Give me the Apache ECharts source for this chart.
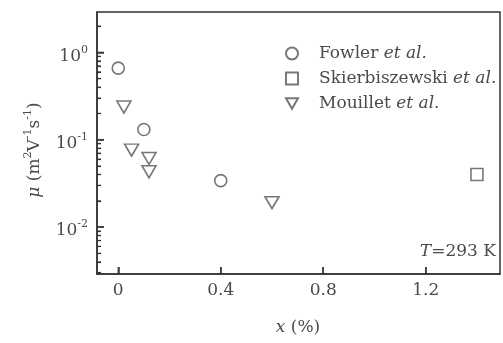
<!DOCTYPE html>
<html><head><meta charset="utf-8">
<script src="https://cdn.jsdelivr.net/npm/echarts@6/dist/echarts.min.js"></script>
<style>html,body{margin:0;padding:0;background:#fff}#c{width:503px;height:343px}</style>
</head><body><div id="c"></div>
<script>
// Data
const fowlerX = [0.0, 0.10, 0.40];
const fowlerY = [0.66, 0.131, 0.034];
const skierX = [1.40];
const skierY = [0.040];
const mouilletX = [0.022, 0.052, 0.12, 0.12, 0.60];
const mouilletY = [0.237, 0.076, 0.061, 0.043, 0.019];
const xTickValues = [0, 0.4, 0.8, 1.2];
const yMajorValues = [0.01, 0.1, 1];
const yMinorValues = [0.003,0.004,0.005,0.006,0.007,0.008,0.009,
  0.02,0.03,0.04,0.05,0.06,0.07,0.08,0.09,
  0.2,0.3,0.4,0.5,0.6,0.7,0.8,0.9,2];
const seriesNames = ['Fowler', 'Skierbiszewski', 'Mouillet'];

const FONT = 'DejaVu Serif';
const TXT = '#4a4a4a';
const STROKE = '#555';
const AX = '#333';
const zip = (xs, ys) => xs.map((x, i) => [x, ys[i]]);
const triDown = 'path://M0,0 L12,0 L6,10.4 Z';

const chart = echarts.init(document.getElementById('c'), null, {renderer: 'canvas'});
const markerStyle = {color: '#fff', borderColor: STROKE, borderWidth: 1.6};
const xMin = -0.083, xMax = 1.49;
const yMin = 0.0029, yMax = 2.9;
const sup = {fontFamily: FONT, fontSize: 11, color: TXT, verticalAlign: 'top', lineHeight: 12};
const supG = {fontFamily: FONT, fontSize: 11, fill: TXT, verticalAlign: 'top', lineHeight: 12};

function tickSeries(data, size, offset) {
  return {type: 'scatter', symbol: 'rect', symbolSize: size, symbolOffset: offset,
    itemStyle: {color: AX}, silent: true, clip: false, z: 4, data: data,
    emphasis: {disabled: true}};
}

chart.setOption({
  animation: false,
  backgroundColor: '#fff',
  grid: {left: 97, top: 12, right: 3, bottom: 69, show: true, borderColor: AX, borderWidth: 1.5, containLabel: false},
  legend: {
    orient: 'vertical', left: 280, top: 40, itemWidth: 12, itemHeight: 12, itemGap: 8,
    data: seriesNames,
    formatter: n => '{g|}{t|' + n + ' }{i|et al.}',
    textStyle: {
      color: TXT, fontFamily: FONT, fontSize: 17,
      rich: {
        g: {width: 16},
        t: {color: TXT, fontFamily: FONT, fontSize: 17},
        i: {color: TXT, fontFamily: FONT, fontSize: 17, fontStyle: 'italic'}
      }
    }
  },
  xAxis: {
    type: 'value', min: xMin, max: xMax,
    axisLine: {show: true, onZero: false, lineStyle: {color: AX, width: 1.5}},
    axisTick: {show: true, inside: true, length: 7, customValues: xTickValues, lineStyle: {color: AX, width: 1.5}},
    axisLabel: {customValues: xTickValues, color: TXT, fontFamily: FONT, fontSize: 17, margin: 8,
      formatter: v => String(v)},
    splitLine: {show: false}
  },
  yAxis: [{
    type: 'log', logBase: 10, min: yMin, max: yMax,
    axisLine: {show: true, onZero: false, lineStyle: {color: AX, width: 1.5}},
    axisTick: {show: true, inside: true, length: 7, customValues: yMajorValues, lineStyle: {color: AX, width: 1.5}},
    axisLabel: {customValues: yMajorValues, color: TXT, fontFamily: FONT, margin: 9, padding: [8, 0, 0, 0],
      formatter: v => {
        const e = Math.round(Math.log10(v));
        return '{b|10}{s|' + e + '}';
      },
      rich: {
        b: {fontFamily: FONT, fontSize: 17, color: TXT, lineHeight: 24},
        s: sup
      }},
    splitLine: {show: false}
  }, {
    type: 'log', logBase: 10, min: yMin, max: yMax, position: 'left',
    axisLine: {show: false, onZero: false},
    axisTick: {show: true, inside: true, length: 4, customValues: yMinorValues, lineStyle: {color: AX, width: 1.2}},
    axisLabel: {show: false},
    splitLine: {show: false}
  }],
  series: [
    {name: 'Fowler', type: 'scatter', symbol: 'circle', symbolSize: 12, itemStyle: markerStyle, data: zip(fowlerX, fowlerY), z: 3},
    {name: 'Skierbiszewski', type: 'scatter', symbol: 'rect', symbolSize: 12, itemStyle: markerStyle, data: zip(skierX, skierY), z: 3},
    {name: 'Mouillet', type: 'scatter', symbol: triDown, symbolSize: [14, 12], itemStyle: markerStyle, data: zip(mouilletX, mouilletY), z: 3},
    tickSeries(xTickValues.map(v => [v, yMin]), [1.5, 7], [0, -3.5]),
    tickSeries(yMajorValues.map(v => [xMin, v]), [7, 1.5], [3.5, 0]),
    tickSeries(yMinorValues.map(v => [xMin, v]), [4, 1.2], [2, 0])
  ],
  graphic: [{
    type: 'text', right: 7, top: 243,
    style: {
      text: '{i|T}=293 K', fill: TXT, font: '17px "' + FONT + '"',
      rich: {i: {fontStyle: 'italic', fontFamily: FONT, fontSize: 17, fill: TXT}}
    }
  }, {
    type: 'text', x: 298, y: 328,
    style: {
      text: '{i|x} (%)', fill: TXT, font: '17px "' + FONT + '"', align: 'center', verticalAlign: 'middle',
      rich: {i: {fontStyle: 'italic', fontFamily: FONT, fontSize: 17, fill: TXT}}
    }
  }, {
    type: 'text', x: 35, y: 150, rotation: Math.PI / 2,
    style: {
      text: '{m|μ}{t| (m}{s|2}{t|V}{s|-1}{t|s}{s|-1}{t|)}', fill: TXT, font: '17px "' + FONT + '"',
      align: 'center', verticalAlign: 'middle',
      rich: {
        m: {fontStyle: 'italic', fontFamily: FONT, fontSize: 17, fill: TXT, lineHeight: 24},
        t: {fontFamily: FONT, fontSize: 17, fill: TXT, lineHeight: 24},
        s: supG
      }
    }
  }]
});
</script></body></html>
